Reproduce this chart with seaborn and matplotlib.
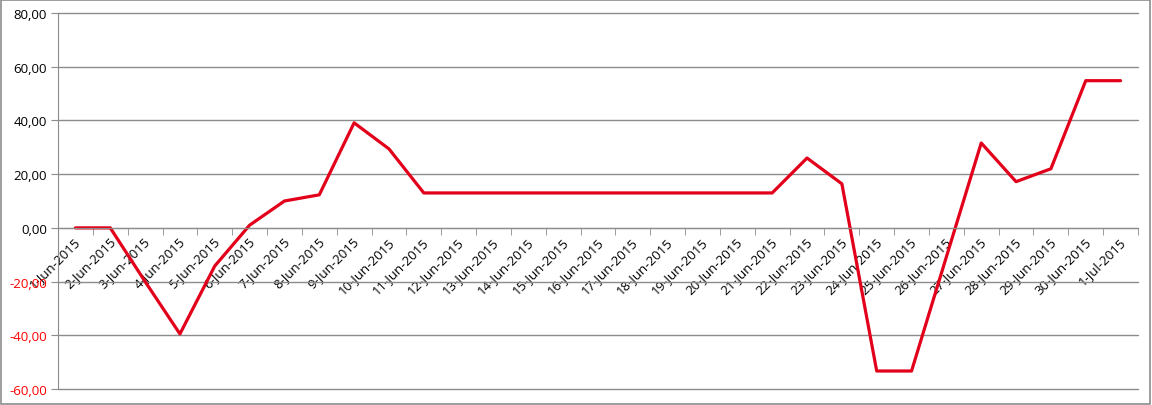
import matplotlib
matplotlib.use("Agg")
import matplotlib.pyplot as plt
import matplotlib.ticker as mticker
import matplotlib.transforms as mtransforms
from matplotlib.patches import Rectangle
import pandas as pd
import seaborn as sns

# daily values, 1-Jun-2015 .. 1-Jul-2015
dates = [f"{d}-Jun-2015" for d in range(1, 31)] + ["1-Jul-2015"]
values = [
    0.0, 0.0, -20.0, -39.5, -14.2, 1.0, 10.0, 12.3, 39.1, 29.4,
    13.0, 13.0, 13.0, 13.0, 13.0, 13.0, 13.0, 13.0, 13.0, 13.0,
    13.0, 26.0, 16.4, -53.3, -53.3, -10.8, 31.6, 17.2, 22.0, 54.8,
    54.8,
]
y_ticks = [-60, -40, -20, 0, 20, 40, 60, 80]

sns.set_style("white")
plt.rcParams["font.family"] = ["Open Sans", "DejaVu Sans"]

df = pd.DataFrame({"date": dates, "value": values})

fig = plt.figure(figsize=(11.52, 4.06), dpi=100)
ax = fig.add_axes([58 / 1152, 16 / 406, 1080 / 1152, 376 / 406])

sns.lineplot(data=df, x="date", y="value", ax=ax, color="#E2001A",
             linewidth=2.3, sort=False)

ax.set_xlim(-0.5, len(dates) - 0.5)
ax.set_ylim(-60, 80)
ax.set_xlabel("")
ax.set_ylabel("")

grid_c = "#8c8c8c"
ax.set_yticks(y_ticks)
ax.yaxis.set_major_formatter(mticker.FuncFormatter(lambda v, p: f"{v:.2f}".replace(".", ",")))
ax.grid(axis="y", color=grid_c, linewidth=1)
ax.grid(axis="x", visible=False)
ax.tick_params(axis="y", length=5, color=grid_c, labelsize=9.5, pad=3, left=True)

# category labels at centres, tick marks between categories
ax.set_xticks(range(len(dates)))
ax.set_xticks([i - 0.5 for i in range(len(dates) + 1)], minor=True)
ax.tick_params(axis="x", which="major", length=0, pad=8)
ax.tick_params(axis="x", which="minor", length=5, color=grid_c, bottom=True)

ax.spines["bottom"].set_position(("data", 0))
ax.spines["bottom"].set_color(grid_c)
ax.spines["left"].set_color(grid_c)
ax.spines["top"].set_visible(False)
ax.spines["right"].set_visible(False)
ax.set_axisbelow(True)

ax.set_xticklabels(dates, rotation=45, ha="right", va="center",
                   rotation_mode="anchor", fontsize=9.5, color="#000000")
shift = mtransforms.ScaledTranslation(3 / 100, 0, fig.dpi_scale_trans)
for lbl in ax.get_xticklabels():
    lbl.set_transform(lbl.get_transform() + shift)
for lbl, v in zip(ax.get_yticklabels(), y_ticks):
    lbl.set_color("#FF0000" if v < 0 else "#000000")
for gl in ax.get_ygridlines():
    gl.set_clip_on(False)

# outer chart border
fig.patches.append(Rectangle((0.001, 0.002), 0.997, 0.995, transform=fig.transFigure,
                             fill=False, edgecolor="#8c8c8c", linewidth=1.2))

fig.savefig("out.png", dpi=100)
